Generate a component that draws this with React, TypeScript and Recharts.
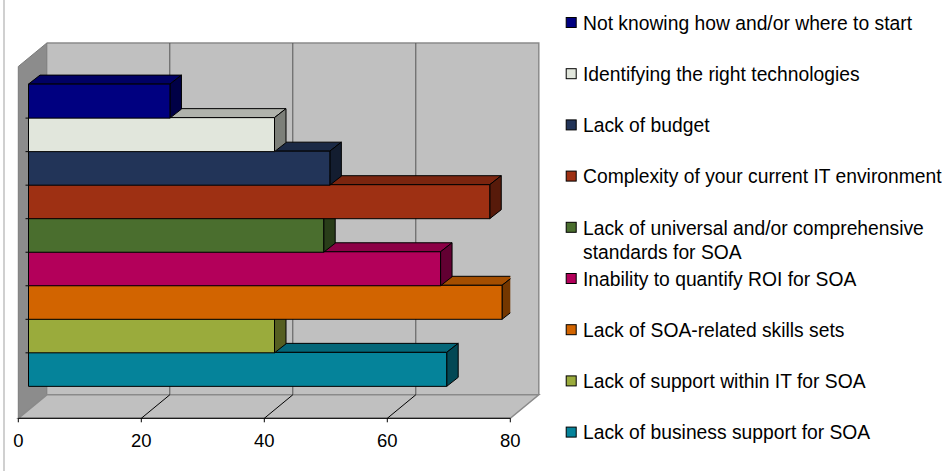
import React from 'react';
import { BarChart, Bar, XAxis, YAxis } from 'recharts';

// Barriers to SOA adoption, listed top to bottom as they appear in the legend
const barriers = [
  'Not knowing how and/or where to start',
  'Identifying the right technologies',
  'Lack of budget',
  'Complexity of your current IT environment',
  'Lack of universal and/or comprehensive\nstandards for SOA',
  'Inability to quantify ROI for SOA',
  'Lack of SOA-related skills sets',
  'Lack of support within IT for SOA',
  'Lack of business support for SOA',
];
const responses = [23, 40, 49, 75, 48, 67, 77, 40, 68];
const barColors = [
  '#000080', '#E1E6DC', '#223458', '#9E3013', '#4A6E2E',
  '#B3005A', '#D26400', '#9AAB3C', '#05839A',
];
const axisTicks = [0, 20, 40, 60, 80];

const FONT = '"Liberation Sans", Arial, sans-serif';
const W = 942;
const H = 471;

// front plane of the 3D box (value axis sits on its bottom edge)
const PLOT_LEFT = 18.3;
const PLOT_RIGHT = 510.3;
const PLOT_TOP = 66.5;
const PLOT_BOTTOM = 418.3;
const X_MAX = 80;
const DEPTH_X = 28.5;
const DEPTH_Y = 23.5;
const AXIS_H = 30;

// bars sit part way into the box and have their own depth
const BAR_SHIFT_X = 10.2;
const BAR_SHIFT_Y = 8.4;
const BAR_DX = 11.5;
const BAR_DY = 9;

const xAt = (v: number) => PLOT_LEFT + (v / X_MAX) * (PLOT_RIGHT - PLOT_LEFT);

const shade = (hex: string, f: number) => {
  const n = parseInt(hex.slice(1), 16);
  const r = Math.round(((n >> 16) & 255) * f);
  const g = Math.round(((n >> 8) & 255) * f);
  const b = Math.round((n & 255) * f);
  return `rgb(${r},${g},${b})`;
};

// bottom bar first so upper bars are painted over the lower bars' top faces
const rows = barriers
  .map((name, i) => ({ name, value: responses[i], color: barColors[i] }))
  .reverse();

const Bar3D = (props: any) => {
  const { x, y, width, height, index, payload } = props;
  const color = payload?.color ?? props.fill;
  const fx = x + BAR_SHIFT_X;
  const fy = y - BAR_SHIFT_Y;
  const r = fx + width;
  const b = fy + height;
  return (
    <g stroke="#000" strokeWidth={1} strokeLinejoin="round">
      <polygon
        points={`${fx},${fy} ${fx + BAR_DX},${fy - BAR_DY} ${r + BAR_DX},${fy - BAR_DY} ${r},${fy}`}
        fill={shade(color, 0.78)}
      />
      <polygon
        points={`${r},${fy} ${r + BAR_DX},${fy - BAR_DY} ${r + BAR_DX},${b - BAR_DY} ${r},${b}`}
        fill={shade(color, 0.55)}
      />
      <rect x={fx} y={fy} width={width} height={height} fill={color} />
      {index > 0 && <line x1={fx - 3} x2={fx} y1={b} y2={b} />}
    </g>
  );
};

const Backdrop = () => {
  const backLeft = PLOT_LEFT + DEPTH_X;
  const backRight = PLOT_RIGHT + DEPTH_X;
  const backTop = PLOT_TOP - DEPTH_Y;
  const backBottom = PLOT_BOTTOM - DEPTH_Y;
  const inner = axisTicks.slice(1, -1);
  return (
    <svg width={W} height={H} style={{ position: 'absolute', left: 0, top: 0 }}>
      <line x1={4} x2={4} y1={0} y2={H} stroke="#d0d0d0" strokeWidth={2} />

      {/* walls */}
      <rect x={backLeft} y={backTop} width={backRight - backLeft} height={backBottom - backTop} fill="#C0C0C0" />
      <polyline
        points={`${backLeft},${backTop} ${backRight},${backTop} ${backRight},${backBottom}`}
        fill="none"
        stroke="#8a8a8a"
        strokeWidth={1.5}
      />
      <polygon
        points={`${PLOT_LEFT},${PLOT_TOP} ${backLeft},${backTop} ${backLeft},${backBottom} ${PLOT_LEFT},${PLOT_BOTTOM}`}
        fill="#8C8C8C"
        stroke="#7a7a7a"
      />
      <polygon
        points={`${PLOT_LEFT},${PLOT_BOTTOM} ${backLeft},${backBottom} ${backRight},${backBottom} ${PLOT_RIGHT},${PLOT_BOTTOM}`}
        fill="#C0C0C0"
        stroke="#8a8a8a"
        strokeWidth={1.5}
      />

      {/* gridlines on the back wall and the floor */}
      {inner.map((v) => (
        <g key={v}>
          <line x1={xAt(v) + DEPTH_X} x2={xAt(v) + DEPTH_X} y1={backTop} y2={backBottom} stroke="#555" />
          <line x1={xAt(v)} x2={xAt(v) + DEPTH_X} y1={PLOT_BOTTOM} y2={backBottom} stroke="#000" />
        </g>
      ))}

      {/* legend */}
      {barriers.map((label, i) => {
        const cy = 22.7 + i * 51.2;
        const lines = label.split('\n');
        return (
          <g key={label}>
            <rect x={566.2} y={cy - 5.2} width={10} height={10} fill={barColors[i]} stroke="#000" />
            <text x={583} y={cy + 7} fontSize={19.3} fill="#000" fontFamily={FONT}>
              {lines.map((line, j) => (
                <tspan key={j} x={583} dy={j ? 24 : 0}>
                  {line}
                </tspan>
              ))}
            </text>
          </g>
        );
      })}
    </svg>
  );
};

export default function App() {
  return (
    <div
      style={{
        position: 'absolute',
        left: 0,
        top: 0,
        width: W,
        height: H,
        background: '#fff',
        fontFamily: FONT,
      }}
    >
      <Backdrop />
      <div style={{ position: 'absolute', left: 0, top: 0 }}>
        <BarChart
          width={W}
          height={H}
          data={rows}
          layout="vertical"
          barCategoryGap={0}
          margin={{
            top: PLOT_TOP,
            left: PLOT_LEFT,
            right: W - PLOT_RIGHT,
            bottom: H - PLOT_BOTTOM - AXIS_H,
          }}
        >
          <XAxis
            type="number"
            domain={[0, X_MAX]}
            ticks={axisTicks}
            height={AXIS_H}
            tickSize={4}
            tickMargin={12}
            stroke="#000"
            tick={{ fill: '#000', fontSize: 18.5, fontFamily: FONT }}
            allowDataOverflow
          />
          <YAxis type="category" dataKey="name" reversed hide padding={{ top: 26, bottom: 24 }} />
          <Bar
            dataKey="value"
            isAnimationActive={false}
            shape={(p: any) => <Bar3D {...p} />}
          />
        </BarChart>
      </div>
    </div>
  );
}
